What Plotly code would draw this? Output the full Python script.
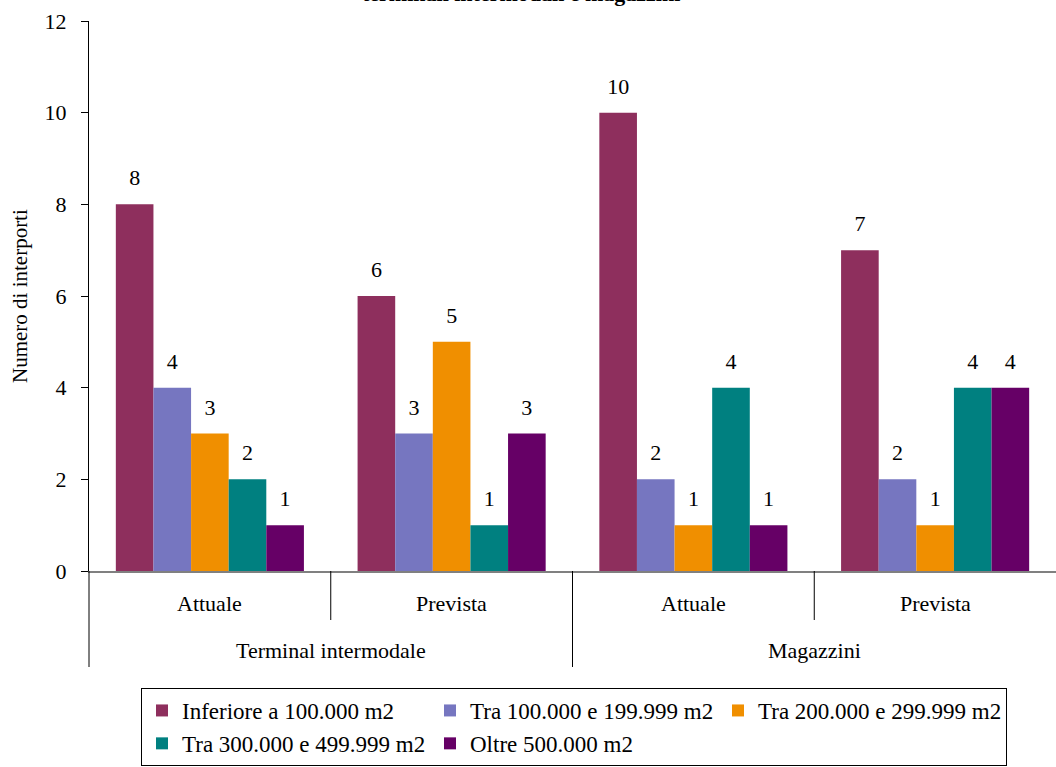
import plotly.graph_objects as go

# Categories: facility type (outer) and time frame (inner)
facility = ["Terminal intermodale", "Terminal intermodale", "Magazzini", "Magazzini"]
period = ["Attuale", "Prevista", "Attuale", "Prevista"]
outer_labels = ["Terminal intermodale", "Magazzini"]

series_names = [
    "Inferiore a 100.000 m2",
    "Tra 100.000 e 199.999 m2",
    "Tra 200.000 e 299.999 m2",
    "Tra 300.000 e 499.999 m2",
    "Oltre 500.000 m2",
]
inferiore_100k = [8, 6, 10, 7]
tra_100k_200k = [4, 3, 2, 2]
tra_200k_300k = [3, 5, 1, 1]
tra_300k_500k = [2, 1, 4, 4]
oltre_500k = [1, 3, 1, 4]
series_values = [inferiore_100k, tra_100k_200k, tra_200k_300k, tra_300k_500k, oltre_500k]
series_colors = ["#8e2f5d", "#7676c0", "#f08f00", "#008080", "#660066"]

y_ticks = [0, 2, 4, 6, 8, 10, 12]

FONT = "Liberation Serif, Times New Roman, serif"
GAP = 0.222

fig = go.Figure()
for k, (name, vals, col) in enumerate(zip(series_names, series_values, series_colors)):
    fig.add_trace(go.Bar(
        name=name,
        x=[facility, period],
        y=vals,
        offsetgroup=str(k),
        alignmentgroup="g",
        marker=dict(color=col, line=dict(width=0)),
    ))
    # value labels, laid out side by side like the bars
    fig.add_trace(go.Scatter(
        x=[facility, period],
        y=vals,
        offsetgroup=str(k),
        alignmentgroup="g",
        mode="markers+text",
        marker=dict(size=20, color="rgba(0,0,0,0)"),
        text=[str(v) for v in vals],
        textposition="top center",
        textfont=dict(family=FONT, size=22, color="#000000"),
        showlegend=False,
        hoverinfo="skip",
        cliponaxis=False,
    ))

fig.update_layout(
    width=1056,
    height=767,
    margin=dict(l=89, r=0, t=21, b=196),
    paper_bgcolor="#ffffff",
    plot_bgcolor="#ffffff",
    barmode="group",
    bargap=GAP,
    bargroupgap=0,
    scattermode="group",
    scattergap=GAP,
    font=dict(family=FONT, size=22, color="#000000"),
    showlegend=True,
    legend=dict(
        orientation="h",
        xref="container", yref="container",
        x=141 / 1056, y=1 - 688 / 767,
        xanchor="left", yanchor="top",
        bordercolor="#000000", borderwidth=1,
        bgcolor="#ffffff",
        entrywidth=243, entrywidthmode="pixels",
        font=dict(family=FONT, size=23, color="#000000"),
        traceorder="normal",
    ),
)

fig.update_yaxes(
    range=[0, 12],
    tickvals=y_ticks,
    ticks="outside", ticklen=7, tickcolor="#000000", tickwidth=1,
    showline=True, linecolor="#000000", linewidth=1,
    showgrid=False, zeroline=False,
    tickfont=dict(family=FONT, size=22, color="#000000"),
    ticklabelstandoff=10,
)
fig.update_xaxes(
    showticklabels=False,
    showdividers=False,
    ticks="",
    showline=True, linecolor="#808080", linewidth=2,
    showgrid=False,
)

# Axis title
fig.add_annotation(
    text="Numero di interporti", textangle=-90,
    xref="paper", yref="paper", x=-69 / 967, y=0.5,
    xanchor="center", yanchor="middle",
    showarrow=False, font=dict(family=FONT, size=21, color="#000000"),
)

# Chart title (its last line sits at the very top edge)
fig.add_annotation(
    text="<b>terminali intermodali e magazzini</b>",
    xref="paper", yref="paper", x=0.447, y=1.0 + 13 / 550,
    xanchor="center", yanchor="bottom", showarrow=False,
    font=dict(family=FONT, size=22, color="#000000"),
)

# Category labels below the axis
n = len(period)
for i, p in enumerate(period):
    fig.add_annotation(
        text=p, xref="paper", yref="paper",
        x=(i + 0.5) / n, y=-32 / 550, xanchor="center", yanchor="middle",
        showarrow=False, font=dict(family=FONT, size=22, color="#000000"),
    )
for j, f in enumerate(outer_labels):
    fig.add_annotation(
        text=f, xref="paper", yref="paper",
        x=(j + 0.5) / len(outer_labels), y=-79 / 550, xanchor="center", yanchor="middle",
        showarrow=False, font=dict(family=FONT, size=22, color="#000000"),
    )

# Divider lines between categories
for i in range(n):
    is_outer = i % 2 == 0
    fig.add_shape(
        type="line", xref="paper", yref="paper",
        x0=i / n, x1=i / n, y0=0, y1=(-96 if is_outer else -49) / 550,
        line=dict(color="#000000", width=1),
    )

fig.write_html("out.html")
